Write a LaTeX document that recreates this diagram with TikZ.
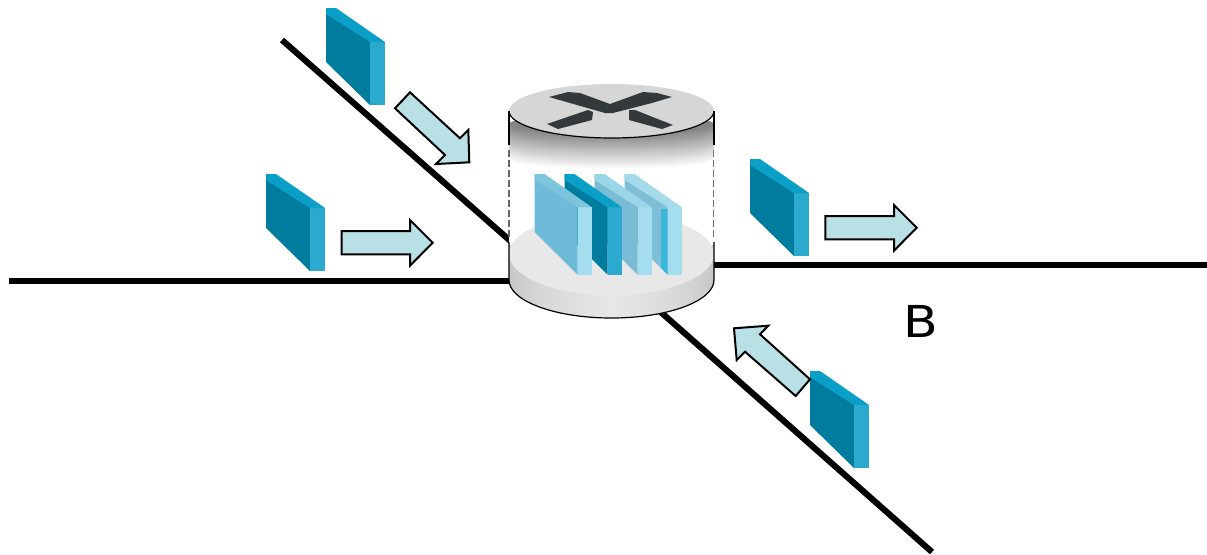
\documentclass[tikz,border=0pt]{standalone}
\usepackage{graphicx}
\usepackage{fontspec}
\setsansfont{DejaVu Sans}
\definecolor{pkD}{HTML}{007C9F}\definecolor{pkS}{HTML}{2CA9CE}\definecolor{pkT}{HTML}{0A9FC6}
\definecolor{arrowfill}{HTML}{B9E0E4}
\definecolor{crossc}{HTML}{33383B}
\definecolor{qside}{HTML}{A5DDF0}
\definecolor{qaF}{HTML}{6DBBD8}\definecolor{qaT}{HTML}{7CC5DD}
\definecolor{qcF}{HTML}{7ABBD5}\definecolor{qcT}{HTML}{9AD5E8}
\definecolor{qdF}{HTML}{7EBED6}\definecolor{qdT}{HTML}{A5DAEA}
\definecolor{qdB}{HTML}{3AB8DC}
\pgfdeclarehorizontalshading{drumside}{100bp}{
 color(0bp)=(black!55); color(14bp)=(black!32); color(32bp)=(black!16);
 color(50bp)=(black!9); color(68bp)=(black!16); color(86bp)=(black!32); color(100bp)=(black!55)}
\tikzset{
 wire/.style={line width=4.6pt,black,line cap=butt},
 flow/.style={draw=black,line width=1.5pt,fill=arrowfill,line join=miter},
 pics/packet/.style args={#1/#2/#3}{code={
  \fill[#1] (0,0)--(0,54)--(44,97)--(44,30)--cycle;
  \fill[#2] (44,34)--(59,34)--(59,97)--(44,97)--cycle;
  \fill[#3] (0,0)--(10,0)--(59,34)--(44,34)--(0,6)--cycle;
 }},
 pics/panel/.style args={#1/#2/#3}{code={
  \fill[#1] (0,0)--(0,58)--(43,100.5)--(43,30)--cycle;
  \fill[#2] (43,33)--(57,33)--(57,100.5)--(43,100.5)--cycle;
  \fill[#3] (0,0)--(10,0)--(57,33)--(43,33)--(0,6)--cycle;
 }}
}
\begin{document}
\begin{tikzpicture}[x=0.75pt,y=-0.75pt]
\useasboundingbox (0,0) rectangle (1207,554);
% wires
\coordinate (wl) at (9,281);\coordinate (wlend) at (515,281);
\coordinate (wr) at (1207,265);\coordinate (wrend) at (710,265);
\coordinate (wt) at (282,40);\coordinate (wtend) at (515,245);
\coordinate (wb) at (932,552);\coordinate (wbend) at (655,307);
\draw[wire] (wl)--(wlend);\draw[wire] (wr)--(wrend);
\draw[wire] (wt)--(wtend);\draw[wire] (wb)--(wbend);
% router body
\fill[white] (509,111)--(509,280) arc[x radius=102.5,y radius=38,start angle=180,end angle=0]--(714,111)--cycle;
% lower disc
\begin{scope}
\clip (509,245)--(509,280) arc[x radius=102.5,y radius=38,start angle=180,end angle=0]--(714,245)--cycle;
\shade[shading=drumside] (509,240) rectangle (714,320);
\end{scope}
\fill[black!9] (611.5,254) ellipse[x radius=102.5,y radius=41];
% upper band
\begin{scope}
\clip (509,111) rectangle (714,175);
\foreach \i in {0,1,...,36}{
  \pgfmathsetmacro{\shadeval}{48*\i/36}
  \fill[black!\shadeval!white] (611.5,{160-\i}) ellipse[x radius=102.5,y radius=10];
}
\end{scope}
\fill[black!16] (611.5,111) ellipse[x radius=102.5,y radius=27];
% outlines
\draw[black,line width=0.9pt] (509,111) arc[x radius=102.5,y radius=27,start angle=180,end angle=0];
\draw[black,line width=0.9pt] (509,111)--(509,145);\draw[black,line width=0.9pt] (714,111)--(714,145);
\draw[black!60,line width=0.9pt,dash pattern=on 5pt off 2.5pt] (509,150)--(509,238);
\draw[black!55,line width=1.3pt,dash pattern=on 5pt off 2.5pt] (713.5,150)--(713.5,238);
\draw[black,line width=0.9pt] (509,242)--(509,280) arc[x radius=102.5,y radius=38,start angle=180,end angle=0]--(714,242);
% cross
\fill[crossc] (549,97)--(568,92)--(580,93)--(610,104)--(643,92)--(657,93)--(672,97)--(652,103)--(613,113)--(605,113)--(570,103)--cycle;
\fill[crossc] (547,124)--(588,110)--(593,112)--(592,120)--(558,129)--cycle;
\fill[crossc] (629,110)--(635,110)--(673,125)--(662,129)--(629,120)--cycle;
% queue
\pic at (624.5,174) {panel={qdF/qside/qdT}};
\fill[qdB] (661,209)--(667.5,209)--(667.5,274.5)--(661,268)--cycle;
\pic at (594.5,174) {panel={qcF/qside/qcT}};
\pic at (564.5,174) {panel={pkD/pkS/pkT}};
\pic at (534.5,174) {panel={qaF/qside/qaT}};
% packets
\pic at (326,8) {packet={pkD/pkS/pkT}};
\pic at (266,174) {packet={pkD/pkS/pkT}};
\pic at (750,159) {packet={pkD/pkS/pkT}};
\pic at (810,371) {packet={pkD/pkS/pkT}};
% arrows
\draw[flow] (410,92.3)--(460,138.3)--(468.3,130)--(469.3,162.3)--(436,164)--(445,155)--(395,108.3)--cycle;
\draw[flow] (341.7,231)--(410,231)--(410,220)--(432.7,242.7)--(410,265.7)--(410,254.3)--(341.7,254.3)--cycle;
\draw[flow] (825.3,216)--(894,216)--(894,205)--(916.7,227.7)--(894,250.7)--(894,239.3)--(825.3,239.3)--cycle;
\draw[flow] (810,379.3)--(760,334.3)--(768.3,325.7)--(734,328.3)--(736.7,360)--(745,351.7)--(795.7,396)--cycle;
\node[font=\sffamily\fontsize{33}{36}\selectfont,inner sep=0pt] (lblB) at (921,321) {\scalebox{1.15}[1]{B}};
\end{tikzpicture}
\end{document}
